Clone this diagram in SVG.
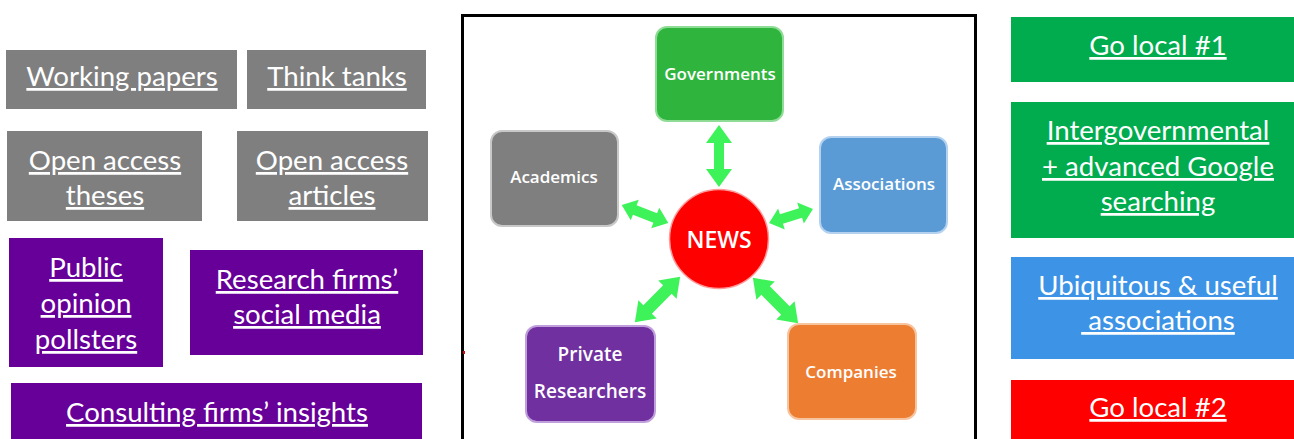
<svg xmlns="http://www.w3.org/2000/svg" width="1294" height="439" viewBox="0 0 1294 439">
<style>
.lt{font-family:Lato,"Liberation Sans",sans-serif;font-size:27.6px;fill:#ffffff;text-anchor:middle;text-decoration:underline}
.nt{font-family:"Open Sans","Liberation Sans",sans-serif;font-size:17px;font-weight:600;fill:#ffffff;text-anchor:middle}
.gray{fill:#7f7f7f}
.purp{fill:#660099}
.arr{fill:#3ef25a}
</style>
<rect width="1294" height="439" fill="#ffffff"/>
<g id="working-papers"><rect class="gray" x="6" y="50" width="231" height="59"/><text class="lt" x="122" y="86">Working papers</text></g>
<g id="think-tanks"><rect class="gray" x="247" y="50" width="179" height="59"/><text class="lt" x="337" y="86">Think tanks</text></g>
<g id="oa-theses"><rect class="gray" x="7" y="131" width="195" height="90"/><text class="lt" x="105" y="170">Open access</text><text class="lt" x="105" y="205">theses</text></g>
<g id="oa-articles"><rect class="gray" x="237" y="131" width="191" height="90"/><text class="lt" x="332" y="170">Open access</text><text class="lt" x="332" y="205">articles</text></g>
<g id="pollsters"><rect class="purp" x="9" y="238" width="154" height="129"/><text class="lt" x="86" y="277">Public</text><text class="lt" x="86" y="313">opinion</text><text class="lt" x="86" y="349">pollsters</text></g>
<g id="research-firms"><rect class="purp" x="190" y="250" width="233" height="105"/><text class="lt" x="307" y="289">Research firms’</text><text class="lt" x="307" y="324">social media</text></g>
<g id="consulting"><rect class="purp" x="11" y="383" width="411" height="56"/><text class="lt" x="217" y="422">Consulting firms’ insights</text></g>

<g id="go-local-1"><rect fill="#00ac4e" x="1011" y="17" width="283" height="65"/><text class="lt" x="1158" y="55">Go local #1</text></g>
<g id="intergov"><rect fill="#00ac4e" x="1011" y="102" width="283" height="136"/><text class="lt" x="1158" y="140">Intergovernmental</text><text class="lt" x="1158" y="176">+ advanced Google</text><text class="lt" x="1158" y="211">searching</text></g>
<g id="ubiquitous"><rect fill="#3d94e6" x="1011" y="257" width="283" height="102"/><text class="lt" x="1158" y="295">Ubiquitous &amp; useful</text><text class="lt" x="1158" y="330" xml:space="preserve"> associations</text></g>
<g id="go-local-2"><rect fill="#ff0000" x="1011" y="380" width="283" height="59"/><text class="lt" x="1158" y="417">Go local #2</text></g>

<g id="frame"><rect x="462.5" y="15.5" width="513" height="430" fill="#ffffff" stroke="#000000" stroke-width="3"/><rect x="463" y="351" width="2" height="3" fill="#e00000"/></g>

<g id="connectors" class="arr">
<polygon transform="translate(719,156) rotate(90)" points="-31,0 -13,-13 -13,-5 13,-5 13,-13 31,0 13,13 13,5 -13,5 -13,13"/>
<polygon transform="translate(645,214) rotate(21.4)" points="-25,0 -11,-11 -11,-5 11,-5 11,-11 25,0 11,11 11,5 -11,5 -11,11"/>
<polygon transform="translate(791,216) rotate(-17.6)" points="-23,0 -10,-11 -10,-5 10,-5 10,-11 23,0 10,11 10,5 -10,5 -10,11"/>
<polygon transform="translate(657.5,299.5) rotate(-45)" points="-32,0 -14,-13 -14,-6 14,-6 14,-13 32,0 14,13 14,6 -14,6 -14,13"/>
<polygon transform="translate(775.5,300.5) rotate(45)" points="-32,0 -14,-13 -14,-6 14,-6 14,-13 32,0 14,13 14,6 -14,6 -14,13"/>
</g>

<g id="governments"><rect x="656" y="27" width="127" height="94" rx="11" fill="#2fb43d" stroke="#8fdc96" stroke-width="2"/><text class="nt" x="720" y="80">Governments</text></g>
<g id="academics"><rect x="491" y="131" width="127" height="95" rx="11" fill="#7f7f7f" stroke="#c8c8c8" stroke-width="2"/><text class="nt" x="554" y="183">Academics</text></g>
<g id="associations"><rect x="820" y="137" width="127" height="96" rx="11" fill="#5b9bd5" stroke="#b4d2f0" stroke-width="2"/><text class="nt" x="884" y="190">Associations</text></g>
<g id="private-researchers"><rect x="526" y="326" width="129" height="96" rx="11" fill="#7030a0" stroke="#c0a0dc" stroke-width="2"/><text class="nt" x="590" y="361" style="font-size:19px">Private</text><text class="nt" x="590" y="398" style="font-size:19px">Researchers</text></g>
<g id="companies"><rect x="788" y="324" width="128" height="95" rx="11" fill="#ed7d31" stroke="#f7c4a0" stroke-width="2"/><text class="nt" x="851" y="378">Companies</text></g>
<g id="news"><circle cx="719" cy="239" r="49.5" fill="#ff0000" stroke="#ff9a9a" stroke-width="1.5"/><text class="nt" x="719" y="248" style="font-size:23px">NEWS</text></g>
</svg>
